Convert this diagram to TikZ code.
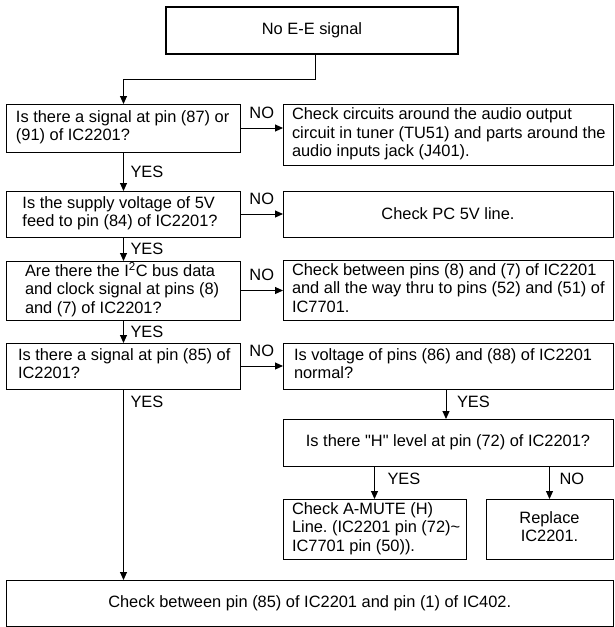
\documentclass[tikz,border=0pt]{standalone}
\usepackage{fontspec}
\setmainfont{Liberation Sans}
\usetikzlibrary{arrows.meta}
\newcommand{\ltab}[2]{\makebox[#1][l]{\begin{tabular}{@{}l@{}}#2\end{tabular}}}
\newcommand{\ctab}[1]{\begin{tabular}{@{}c@{}}#1\end{tabular}}
\frenchspacing
\begin{document}
\begin{tikzpicture}[x=1pt,y=-1pt,
  every node/.style={font=\fontsize{16.4}{18.5}\selectfont\frenchspacing, inner sep=0pt, outer sep=0pt},
  box/.style={draw, line width=1pt, rectangle, anchor=north west},
  arr/.style={line width=1pt, -{Triangle[length=8pt,width=7pt]}},
  lab/.style={anchor=west}
]
\useasboundingbox (0,0) rectangle (614,627);

\node[box, line width=2pt, minimum width=292pt, minimum height=47pt] (t) at (166,7) {No E-E signal};

\node[box, minimum width=234pt, minimum height=48pt, inner xsep=9.5pt] (q1) at (6.5,104)
  {\ltab{215pt}{Is there a signal at pin (87) or\\(91) of IC2201?}};
\node[box, minimum width=330pt, minimum height=61pt, inner xsep=9pt] (r1) at (283,104)
  {\ltab{312pt}{Check circuits around the audio output\\circuit in tuner (TU51) and parts around the\\audio inputs jack (J401).}};

\node[box, minimum width=234pt, minimum height=46pt, inner xsep=16pt] (q2) at (6.5,191)
  {\ltab{202pt}{Is the supply voltage of 5V\\feed to pin (84) of IC2201?}};
\node[box, minimum width=330pt, minimum height=46pt] (r2) at (283,191) {Check PC 5V line.};

\node[box, minimum width=234pt, minimum height=59pt, inner xsep=18.5pt] (q3) at (6.5,261)
  {\ltab{197pt}{Are there the I\textsuperscript{2}C bus data\\and clock signal at pins (8)\\and (7) of IC2201?}};
\node[box, minimum width=330pt, minimum height=60pt, inner xsep=9pt] (r3) at (283,260)
  {\ltab{312pt}{Check between pins (8) and (7) of IC2201\\and all the way thru to pins (52) and (51) of\\IC7701.}};

\node[box, minimum width=234pt, minimum height=46pt, inner xsep=11.5pt] (q4) at (6.5,343)
  {\ltab{211pt}{Is there a signal at pin (85) of\\IC2201?}};
\node[box, minimum width=330pt, minimum height=46pt, inner xsep=11pt] (r4) at (283,343)
  {\ltab{308pt}{Is voltage of pins (86) and (88) of IC2201\\normal?}};

\node[box, minimum width=330pt, minimum height=47pt] (q6) at (283,419)
  {Is there \textquotedbl H\textquotedbl\ level at pin (72) of IC2201?};

\node[box, minimum width=183pt, minimum height=60pt, inner xsep=9pt] (a1) at (283,499)
  {\ltab{165pt}{Check A-MUTE (H)\\Line. (IC2201 pin (72)\textasciitilde\\IC7701 pin (50)).}};
\node[box, minimum width=127pt, minimum height=60pt] (a2) at (486,499)
  {\ctab{Replace\\IC2201.}};

\node[box, minimum width=606.5pt, minimum height=46pt] (b) at (6.5,580)
  {Check between pin (85) of IC2201 and pin (1) of IC402.};

% connectors
\draw[arr] ([xshift=3pt]t.south) -- ++(0,25) -| (q1.north);
\draw[arr] (q1.east) -- (r1.west |- q1.east) node[midway, yshift=15pt] {NO};
\draw[arr] (q1.south) -- (q2.north) node[midway, lab, xshift=7pt] {YES};
\draw[arr] (q2.east) -- (r2.west |- q2.east) node[midway, yshift=15pt] {NO};
\draw[arr] (q2.south) -- (q3.north) node[midway, lab, xshift=7pt] {YES};
\draw[arr] (q3.east) -- (r3.west |- q3.east) node[midway, yshift=16pt] {NO};
\draw[arr] (q3.south) -- (q4.north) node[midway, lab, xshift=7pt] {YES};
\draw[arr] (q4.east) -- (r4.west |- q4.east) node[midway, yshift=15pt] {NO};
\draw[arr] (q4.south) -- (b.north -| q4.south);
\node[lab] (yes4) at ([xshift=7pt,yshift=-13pt]q4.south) {YES};
\draw[arr] ([xshift=-2pt]r4.south) -- ([xshift=-2pt]q6.north) node[midway, lab, xshift=11pt, yshift=2pt] {YES};
\draw[arr] (q6.south -| a1.north) -- (a1.north) node[pos=0.4, lab, xshift=13pt] {YES};
\draw[arr] (q6.south -| a2.north) -- (a2.north) node[pos=0.4, lab, xshift=10pt] {NO};
\end{tikzpicture}
\end{document}
